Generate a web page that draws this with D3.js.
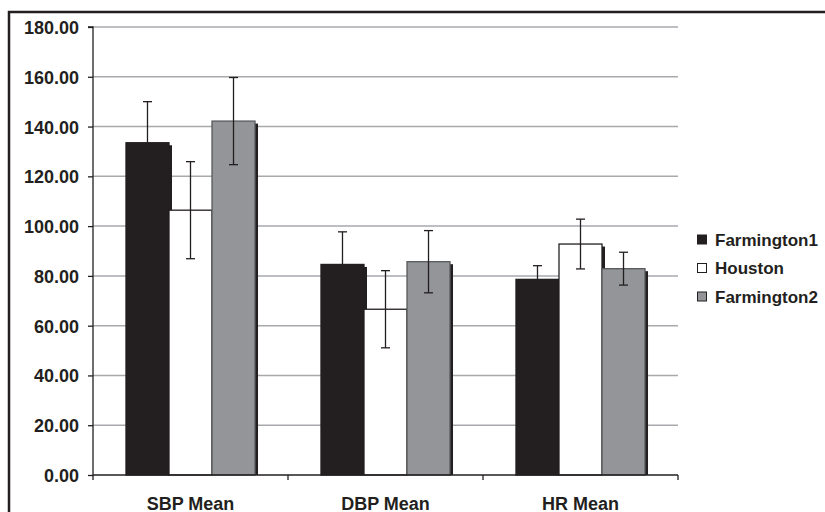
<!DOCTYPE html>
<html>
<head>
<meta charset="utf-8">
<script src="https://cdn.jsdelivr.net/npm/d3@7"></script>
<style>
  html, body { margin: 0; padding: 0; background: #fff; }
  svg { display: block; }
  text { font-family: "Liberation Sans", Arial, sans-serif; font-weight: bold; fill: #231f20; }
</style>
</head>
<body>
<svg id="chart" width="825" height="512"></svg>
<script>
const categories = ["SBP Mean", "DBP Mean", "HR Mean"];
const seriesNames = ["Farmington1", "Houston", "Farmington2"];
const farmington1 = [133.5, 84.6, 78.6];
const houston = [106.4, 66.6, 92.8];
const farmington2 = [142.2, 85.7, 82.9];
const farmington1Err = [16.5, 13.1, 5.5];
const houstonErr = [19.5, 15.5, 10.0];
const farmington2Err = [17.5, 12.5, 6.6];
const yTicks = [0, 20, 40, 60, 80, 100, 120, 140, 160, 180];

const seriesValues = [farmington1, houston, farmington2];
const seriesErrors = [farmington1Err, houstonErr, farmington2Err];
const fills = ["#231f20", "#ffffff", "#939598"];
const strokes = ["#231f20", "#231f20", "#58595b"];

const svg = d3.select("#chart");

// outer frame
svg.append("rect").attr("x", 9).attr("y", 12).attr("width", 840).attr("height", 520)
  .attr("fill", "none").attr("stroke", "#231f20").attr("stroke-width", 2.5);

const x0 = d3.scaleBand().domain(categories).range([93, 678]).paddingInner(0).paddingOuter(0);
const x1 = d3.scaleBand().domain(seriesNames).range([0, x0.bandwidth()]).paddingInner(0).paddingOuter(0.767);
const y = d3.scaleLinear().domain([0, 180]).range([475, 27]);

// gridlines
svg.append("g").selectAll("line").data(yTicks.filter(d => d > 0)).join("line")
  .attr("x1", 93).attr("x2", 678)
  .attr("y1", d => y(d)).attr("y2", d => y(d))
  .attr("stroke", "#a7a9ac").attr("stroke-width", 1.5);

// bars with shadows
const rows = [];
categories.forEach((c, ci) => {
  seriesNames.forEach((s, si) => {
    rows.push({ c, s, si, v: seriesValues[si][ci], e: seriesErrors[si][ci] });
  });
});

const barG = svg.append("g");
rows.forEach(r => {
  const bx = x0(r.c) + x1(r.s);
  const bw = x1.bandwidth();
  barG.append("rect")
    .attr("x", bx + 3).attr("y", y(r.v) + 2.5)
    .attr("width", bw).attr("height", y(0) - y(r.v) - 2.5)
    .attr("fill", "#231f20");
  barG.append("rect")
    .attr("x", bx).attr("y", y(r.v))
    .attr("width", bw).attr("height", y(0) - y(r.v))
    .attr("fill", fills[r.si]).attr("stroke", strokes[r.si]).attr("stroke-width", 1.3);
});

// error bars
const errG = svg.append("g").attr("stroke", "#231f20").attr("stroke-width", 1.3);
rows.forEach(r => {
  const cx = x0(r.c) + x1(r.s) + x1.bandwidth() / 2;
  errG.append("line").attr("x1", cx).attr("x2", cx).attr("y1", y(r.v + r.e)).attr("y2", y(r.v - r.e));
  errG.append("line").attr("x1", cx - 4.5).attr("x2", cx + 4.5).attr("y1", y(r.v + r.e)).attr("y2", y(r.v + r.e));
  errG.append("line").attr("x1", cx - 4.5).attr("x2", cx + 4.5).attr("y1", y(r.v - r.e)).attr("y2", y(r.v - r.e));
});

// y axis
const yAxis = d3.axisLeft(y).tickValues(yTicks).tickSize(5).tickPadding(9).tickFormat(d3.format(".2f"));
const yg = svg.append("g").attr("transform", "translate(93,0)").call(yAxis);
yg.select(".domain").attr("stroke", "#231f20").attr("stroke-width", 1.3).attr("d", `M-5,${y(180)}H0V${y(0)}`);
yg.selectAll(".tick line").attr("stroke", "#231f20").attr("stroke-width", 1.3);
yg.selectAll(".tick text").attr("font-size", "18px").attr("font-family", "Liberation Sans, Arial, sans-serif")
  .attr("font-weight", "bold").attr("fill", "#231f20").attr("dy", "0.36em");

// x axis
const xg = svg.append("g").attr("transform", "translate(0,475)");
xg.append("line").attr("x1", 93).attr("x2", 678).attr("y1", 0).attr("y2", 0)
  .attr("stroke", "#231f20").attr("stroke-width", 1.3);
const tickXs = categories.map(c => x0(c)).concat([x0(categories[categories.length - 1]) + x0.bandwidth()]);
xg.selectAll("line.tk").data(tickXs).join("line").attr("class", "tk")
  .attr("x1", d => d).attr("x2", d => d).attr("y1", 0).attr("y2", 5)
  .attr("stroke", "#231f20").attr("stroke-width", 1.3);
xg.selectAll("text").data(categories).join("text")
  .attr("x", d => x0(d) + x0.bandwidth() / 2).attr("y", 34.5)
  .attr("text-anchor", "middle").attr("font-size", "18px").text(d => d);

// legend
const lg = svg.append("g");
seriesNames.forEach((s, i) => {
  const ly = 239.5 + i * 28.5;
  lg.append("rect").attr("x", 697.5).attr("y", ly - 4.5).attr("width", 9).attr("height", 9)
    .attr("fill", fills[i]).attr("stroke", "#231f20").attr("stroke-width", 1);
  lg.append("text").attr("x", 715).attr("y", ly + 6).attr("font-size", "17px").text(s);
});
</script>
</body>
</html>
